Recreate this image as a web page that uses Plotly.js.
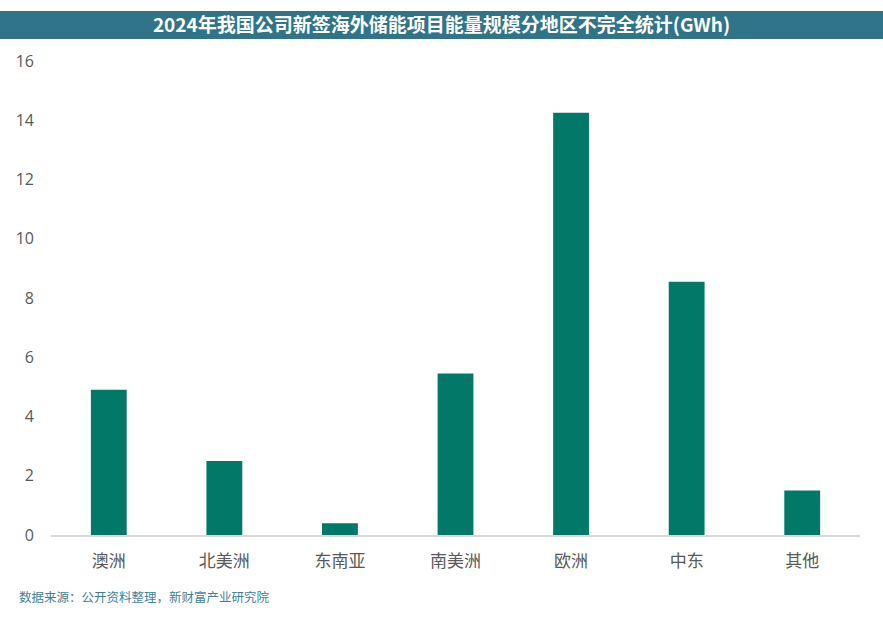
<!DOCTYPE html>
<html>
<head>
<meta charset="utf-8">
<script src="https://cdn.plot.ly/plotly-3.0.1.min.js"></script>
<style>html,body{margin:0;padding:0;background:#fff;}#chart{width:883px;height:619px;}</style>
</head>
<body>
<div id="chart"></div>
<script>
const categories = ["澳洲", "北美洲", "东南亚", "南美洲", "欧洲", "中东", "其他"];
const values = [4.9, 2.5, 0.4, 5.45, 14.25, 8.55, 1.5];
const yTicks = [0, 2, 4, 6, 8, 10, 12, 14, 16];
const titleText = "2024年我国公司新签海外储能项目能量规模分地区不完全统计(GWh)";
const sourceText = "数据来源：公开资料整理，新财富产业研究院";

const W = 883, H = 619, mL = 51, mR = 23, mT = 61, mB = 84;
const pw = W - mL - mR, ph = H - mT - mB;
const px = x => (x - mL) / pw;
const py = y => (H - mB - y) / ph;

const cjk = '"Microsoft YaHei", "Noto Sans CJK SC", sans-serif';

Plotly.newPlot('chart', [{
  type: 'bar',
  x: categories,
  y: values,
  marker: {color: '#017868'},
  hoverinfo: 'x+y'
}], {
  width: W, height: H,
  margin: {l: mL, r: mR, t: mT, b: mB, pad: 0},
  paper_bgcolor: '#ffffff',
  plot_bgcolor: '#ffffff',
  bargap: 0.69,
  showlegend: false,
  font: {family: cjk, color: '#595959'},
  title: {
    text: '<b>' + titleText + '</b>',
    font: {family: cjk, size: 19, color: '#ffffff'},
    x: 0.5, xanchor: 'center', xref: 'container',
    y: 1 - 25 / H, yanchor: 'middle', yref: 'container'
  },
  xaxis: {
    type: 'category',
    showgrid: false, zeroline: false,
    showline: true, linecolor: '#D9D9D9', linewidth: 1.5,
    ticks: '', ticklabelstandoff: 10,
    tickfont: {family: cjk, size: 17, color: '#595959'},
    fixedrange: true
  },
  yaxis: {
    range: [0, 16],
    tickvals: yTicks,
    ticktext: yTicks.map(String),
    showgrid: false, zeroline: false, showline: false,
    ticks: '', ticklabelstandoff: 16,
    tickfont: {family: '"Segoe UI", "Open Sans", sans-serif', size: 16, color: '#595959'},
    fixedrange: true
  },
  shapes: [{
    type: 'rect', xref: 'paper', yref: 'paper',
    x0: px(0), x1: px(W), y0: py(39), y1: py(11),
    fillcolor: '#2F7489', line: {width: 0}, layer: 'below'
  }],
  annotations: [{
    text: sourceText, showarrow: false,
    xref: 'paper', yref: 'paper',
    x: px(17), xanchor: 'left',
    y: py(596), yanchor: 'middle',
    font: {family: cjk, size: 12.5, color: '#3F7F9A'}
  }]
}, {displayModeBar: false, staticPlot: false});
</script>
</body>
</html>
